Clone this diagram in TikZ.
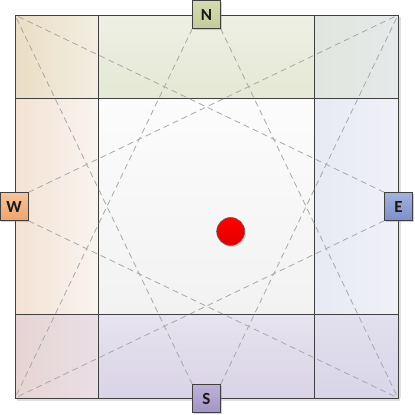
\documentclass[tikz,border=0pt]{standalone}
\usepackage{fontspec}
\setmainfont{Carlito}
\usetikzlibrary{shadows}
\definecolor{gridc}{HTML}{404040}
\definecolor{dashc}{HTML}{A8A8A8}
\definecolor{c1a}{HTML}{EADDC4}\definecolor{c1b}{HTML}{F3EEE2}
\definecolor{c2a}{HTML}{EEF0E4}\definecolor{c2b}{HTML}{E4E8D4}
\definecolor{c3a}{HTML}{E0E6DE}\definecolor{c3b}{HTML}{E5E9EA}
\definecolor{c4a}{HTML}{F3E2D4}\definecolor{c4b}{HTML}{F9F4EF}
\definecolor{c5a}{HTML}{FCFCFC}\definecolor{c5b}{HTML}{F2F2F2}
\definecolor{c6a}{HTML}{E7EAF3}\definecolor{c6b}{HTML}{F0F1F7}
\definecolor{c7a}{HTML}{E6D4D2}\definecolor{c7b}{HTML}{EADFE6}
\definecolor{c8a}{HTML}{E7E3EF}\definecolor{c8b}{HTML}{D9D3E6}
\definecolor{c9a}{HTML}{E2E0EE}\definecolor{c9b}{HTML}{D8D5E8}
\definecolor{na}{HTML}{D4DBB0}\definecolor{nb}{HTML}{C3CC98}
\definecolor{wa}{HTML}{F6C499}\definecolor{wb}{HTML}{EEA46C}
\definecolor{ea}{HTML}{A3B1DE}\definecolor{eb}{HTML}{7D8FC8}
\definecolor{sa}{HTML}{BFB2D8}\definecolor{sb}{HTML}{A294C4}
\tikzset{
  gridline/.style={draw=gridc, line width=1pt},
  dashline/.style={draw=dashc, line width=0.8pt, dash pattern=on 6pt off 4pt},
  dirbox/.style={draw=gridc, line width=0.9pt, minimum width=28pt, minimum height=28pt, inner sep=0pt,
     font=\fontsize{17}{17}\selectfont\bfseries, text=black!90,
     drop shadow={shadow xshift=1.2pt, shadow yshift=-1.2pt, opacity=0.35}},
  dot/.style={circle, draw=gridc!80, line width=0.6pt, minimum size=28pt, inner sep=0pt,
     top color=red, bottom color=red!88!black,
     drop shadow={shadow xshift=1.5pt, shadow yshift=-1.5pt, opacity=0.3}}
}
\begin{document}
\begin{tikzpicture}[x=1pt,y=-1pt]
\useasboundingbox (0,0) rectangle (415,415);
% cells
\shade[left color=c1a, right color=c1b] (15,15) rectangle (98.5,98.5);
\shade[top color=c2a, bottom color=c2b] (98.5,15) rectangle (314.5,98.5);
\shade[left color=c3a, right color=c3b] (314.5,15) rectangle (398,98.5);
\shade[left color=c4a, right color=c4b] (15,98.5) rectangle (98.5,314.5);
\shade[top color=c5a, bottom color=c5b] (98.5,98.5) rectangle (314.5,314.5);
\shade[left color=c6a, right color=c6b] (314.5,98.5) rectangle (398,314.5);
\shade[left color=c7a, right color=c7b] (15,314.5) rectangle (98.5,398);
\shade[top color=c8a, bottom color=c8b] (98.5,314.5) rectangle (314.5,398);
\shade[top color=c9a, bottom color=c9b] (314.5,314.5) rectangle (398,398);
% shadow of the frame
\fill[black, opacity=0.12] (17,398) rectangle (400,400.5);
\fill[black, opacity=0.12] (398,17) rectangle (400.5,398);
% grid
\draw[gridline] (15,15) rectangle (398,398);
\draw[gridline] (98.5,15) -- (98.5,398);
\draw[gridline] (314.5,15) -- (314.5,398);
\draw[gridline] (15,98.5) -- (398,98.5);
\draw[gridline] (15,314.5) -- (398,314.5);
% corners
\coordinate (tl) at (15,15);
\coordinate (tr) at (398,15);
\coordinate (bl) at (15,398);
\coordinate (br) at (398,398);
% label anchors (invisible, for connectors)
\path (206.5,14.5) node[minimum width=28pt, minimum height=28pt, inner sep=0pt] (N) {};
\path (14.2,206.6) node[minimum width=28pt, minimum height=28pt, inner sep=0pt] (W) {};
\path (398.5,206.5) node[minimum width=28pt, minimum height=28pt, inner sep=0pt] (E) {};
\path (206.5,398.5) node[minimum width=28pt, minimum height=28pt, inner sep=0pt] (S) {};
% dashed connectors
\draw[dashline] (N.south west) -- (bl);
\draw[dashline] (N.south east) -- (br);
\draw[dashline] (W.north east) -- (tr);
\draw[dashline] (W.south east) -- (br);
\draw[dashline] (E.north west) -- (tl);
\draw[dashline] (E.south west) -- (bl);
\draw[dashline] (S.north west) -- (tl);
\draw[dashline] (S.north east) -- (tr);
% labels
\node[dirbox, top color=na, bottom color=nb] (Nb) at (N) {N};
\node[dirbox, top color=wa, bottom color=wb] (Wb) at (W) {W};
\node[dirbox, top color=ea, bottom color=eb] (Eb) at (E) {E};
\node[dirbox, top color=sa, bottom color=sb] (Sb) at (S) {S};
% dot
\node[dot] (P) at (230.7,231.5) {};
\end{tikzpicture}
\end{document}
